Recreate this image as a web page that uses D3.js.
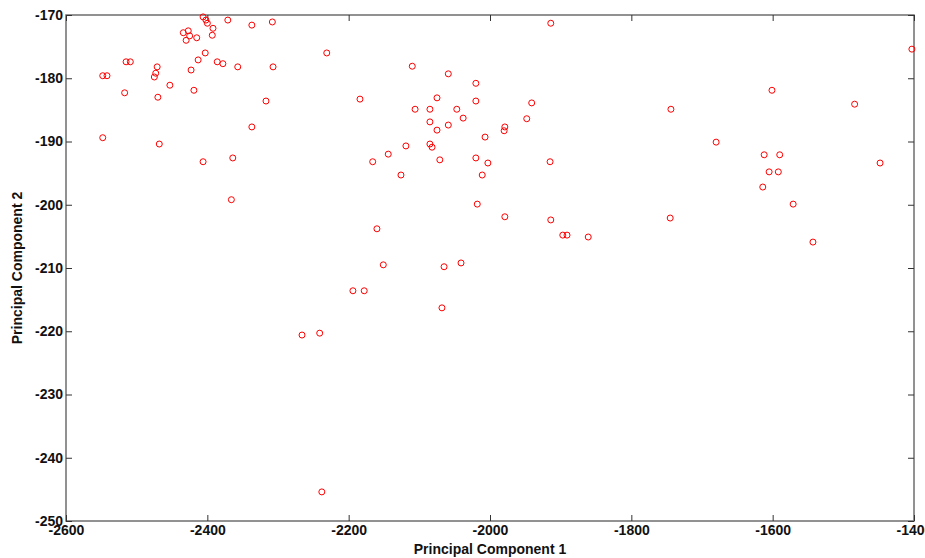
<!DOCTYPE html>
<html>
<head>
    <meta charset="utf-8">
    <script src="https://d3js.org/d3.v7.min.js"></script>
    <style>
        body { margin: 0; background: #fff; }
        text { font-family: "Liberation Sans", Arial, sans-serif; font-weight: bold; }
    </style>
</head>
<body>
    <script>
        // principal component scores
        var pc1 = [
            -2548, -2542, -2548, -2515, -2509, -2517, -2475, -2473, -2471, -2453,
            -2470, -2468, -2434, -2427, -2430, -2425, -2415, -2406, -2402, -2400,
            -2393, -2392, -2371, -2337, -2308, -2403, -2413, -2423, -2386, -2378,
            -2357, -2307, -2419, -2317, -2337, -2406, -2364, -2366, -2231, -2110,
            -2059, -2020, -2020, -1941, -2184, -2106, -2085, -2075, -2047, -2038,
            -2085, -2075, -2059, -1948, -1979, -1980, -2007, -2119, -2085, -2082,
            -2144, -2166, -2071, -2020, -2003, -2011, -2126, -1915, -2018, -1979,
            -1914, -1897, -1891, -1861, -2160, -2151, -2065, -2041, -2194, -2178,
            -2068, -2266, -2241, -2238, -1914, -1403, -1601, -1744, -1484, -1680,
            -1612, -1590, -1605, -1592, -1614, -1448, -1571, -1745, -1543
        ];
        var pc2 = [
            -179.6, -179.6, -189.4, -177.4, -177.4, -182.3, -179.8, -179.2, -178.2, -181.1,
            -183.0, -190.4, -172.8, -172.5, -174.0, -173.3, -173.6, -170.3, -170.8, -171.3,
            -173.2, -172.1, -170.8, -171.6, -171.1, -176.0, -177.1, -178.7, -177.4, -177.7,
            -178.2, -178.2, -181.9, -183.6, -187.7, -193.2, -192.6, -199.2, -176.0, -178.1,
            -179.3, -180.8, -183.6, -183.9, -183.3, -184.9, -184.9, -183.1, -184.9, -186.3,
            -186.9, -188.2, -187.4, -186.4, -187.7, -188.3, -189.3, -190.7, -190.4, -190.9,
            -192.0, -193.2, -192.9, -192.6, -193.4, -195.3, -195.3, -193.2, -199.9, -201.9,
            -202.4, -204.8, -204.8, -205.1, -203.8, -209.5, -209.8, -209.2, -213.6, -213.6,
            -216.3, -220.6, -220.3, -245.4, -171.3, -175.4, -181.9, -184.9, -184.1, -190.1,
            -192.1, -192.1, -194.8, -194.8, -197.2, -193.4, -199.9, -202.1, -205.9
        ];
        var xTicks = [-2600, -2400, -2200, -2000, -1800, -1600, -1400];
        var yTicks = [-250, -240, -230, -220, -210, -200, -190, -180, -170];

        var width = 925, height = 558;
        var margin = {top: 15, right: 11, bottom: 37, left: 66};

        var svg = d3.select("body").append("svg")
            .attr("width", width)
            .attr("height", height);

        var x = d3.scaleLinear()
            .domain([-2600, -1400])
            .range([margin.left, width - margin.right]);

        var y = d3.scaleLinear()
            .domain([-250, -170])
            .range([height - margin.bottom, margin.top]);

        var points = pc1.map((v, i) => ({pc1: v, pc2: pc2[i]}));
        var plain = d => String(d);

        // box
        svg.append("rect")
            .attr("x", margin.left)
            .attr("y", margin.top)
            .attr("width", width - margin.left - margin.right)
            .attr("height", height - margin.top - margin.bottom)
            .style("fill", "none")
            .style("stroke", "#6e6e6e")
            .style("stroke-width", 1.5);

        function styleAxis(g) {
            g.select(".domain").remove();
            g.selectAll(".tick line").style("stroke", "#333").style("stroke-width", 1);
            g.selectAll(".tick text")
                .style("font-size", "14px")
                .style("font-weight", "bold")
                .style("fill", "#111");
        }

        svg.append("g")
            .attr("transform", "translate(0," + (height - margin.bottom) + ")")
            .call(d3.axisBottom(x).tickValues(xTicks).tickFormat(plain).tickSizeInner(-6).tickSizeOuter(0).tickPadding(4))
            .call(styleAxis);

        svg.append("g")
            .attr("transform", "translate(0," + margin.top + ")")
            .call(d3.axisTop(x).tickValues(xTicks).tickSizeInner(-6).tickSizeOuter(0).tickFormat(""))
            .call(styleAxis);

        svg.append("g")
            .attr("transform", "translate(" + margin.left + ",0)")
            .call(d3.axisLeft(y).tickValues(yTicks).tickFormat(plain).tickSizeInner(-6).tickSizeOuter(0).tickPadding(3))
            .call(styleAxis);

        svg.append("g")
            .attr("transform", "translate(" + (width - margin.right) + ",0)")
            .call(d3.axisRight(y).tickValues(yTicks).tickSizeInner(-6).tickSizeOuter(0).tickFormat(""))
            .call(styleAxis);

        svg.append("g")
            .selectAll("circle")
            .data(points)
            .enter().append("circle")
            .attr("cx", d => x(d.pc1))
            .attr("cy", d => y(d.pc2))
            .attr("r", 3)
            .style("fill", "none")
            .style("stroke", "#f00")
            .style("stroke-width", 1);

        svg.append("text")
            .attr("x", (margin.left + width - margin.right) / 2)
            .attr("y", height - 4)
            .attr("text-anchor", "middle")
            .style("font-size", "14px")
            .style("fill", "#111")
            .text("Principal Component 1");

        svg.append("text")
            .attr("transform", "translate(22," + (margin.top + (height - margin.top - margin.bottom) / 2) + ") rotate(-90)")
            .attr("text-anchor", "middle")
            .style("font-size", "14px")
            .style("fill", "#111")
            .text("Principal Component 2");
    </script>
</body>
</html>
